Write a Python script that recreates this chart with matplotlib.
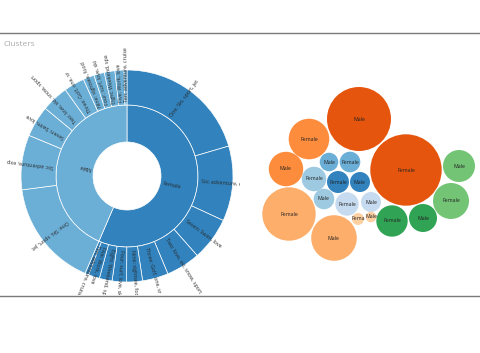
import numpy as np
import matplotlib
matplotlib.use("Agg")
import matplotlib.pyplot as plt
from matplotlib.patches import Wedge, Circle
from matplotlib.lines import Line2D

plt.rcParams['font.family'] = ['Open Sans', 'DejaVu Sans']

# --- data: clusters split by gender (sunburst and bubbles use the same counts) ---
clusters = ["One: Ski, sport, jet", "Six: adventure, exp", "Seven: Swim, love",
            "Two: love, ski, snow, sport", "Three: Golf, one, sr", "Nine: sightsee, food",
            "Four: surf, love, ski", "Eight: Weekend, spa", "Five: Work, love",
            "Ten: adventure, cruise"]
female = [1274, 713, 412, 324, 246, 150, 137, 121, 106, 36]
male = [1024, 520, 296, 256, 196, 106, 100, 100, 86, 28]
colors = ["#e6550d", "#fdae6b", "#fd8d3c", "#74c476", "#31a354",
          "#9ecae1", "#c6dbef", "#3182bd", "#6baed6", "#fdd0a2"]

# bubble pack positions (pixel layout, y measured from top)
female_x = [406, 289, 309, 451, 392, 314, 347, 338, 350, 358]
female_y = [170, 214, 139, 201, 221, 179, 204, 182, 162, 219]
male_x = [359, 334, 286, 459, 423, 324, 371, 360, 329, 371]
male_y = [119, 238, 169, 166, 218, 199, 202, 182, 162, 217]

gender_names = ["Female", "Male"]
gender_colors = ["#3182bd", "#6baed6"]

W, H = 480, 353
fig = plt.figure(figsize=(W / 100, H / 100), dpi=100)


def pixel_axes(x0, x1, y_top, y_bot):
    ax = fig.add_axes([x0 / W, (H - y_bot) / H, (x1 - x0) / W, (y_bot - y_top) / H])
    ax.set_xlim(x0, x1)
    ax.set_ylim(H - y_bot, H - y_top)
    ax.set_aspect('equal')
    ax.axis('off')
    return ax


# frame lines and title
fig.add_artist(Line2D([0, 1], [1 - 33 / H, 1 - 33 / H], color="#7a7a7a", lw=1.0))
fig.add_artist(Line2D([0, 1], [1 - 296 / H, 1 - 296 / H], color="#7a7a7a", lw=1.0))
fig.text(4 / W, 1 - 44 / H, "Clusters", color="#aaaaaa", fontsize=6, va="center", ha="left")

# --- sunburst ---
ax1 = pixel_axes(0, 240, 34, 295)
cx, cy = 127, H - 176
r_hole, r_mid, r_out = 34, 71, 106
total = sum(female) + sum(male)


def label(ax, r, ang, txt, size):
    a = np.radians(ang)
    ax.text(cx + r * np.cos(a), cy + r * np.sin(a), txt, rotation=ang,
            rotation_mode='anchor', ha='left', va='center', fontsize=size,
            color="#2a2a2a", clip_on=True)


start = 90.0
for g, vals in enumerate([female, male]):
    span = 360.0 * sum(vals) / total
    ax1.add_patch(Wedge((cx, cy), r_mid, start - span, start, width=r_mid - r_hole,
                        facecolor=gender_colors[g], edgecolor="white", lw=0.5))
    label(ax1, r_hole + 3, start - span / 2, gender_names[g], 4.0)
    a = start
    for name, v in zip(clusters, vals):
        s = 360.0 * v / total
        ax1.add_patch(Wedge((cx, cy), r_out, a - s, a, width=r_out - r_mid,
                            facecolor=gender_colors[g], edgecolor="white", lw=0.5))
        label(ax1, r_mid + 3, a - s / 2, name, 3.8)
        a -= s
    start -= span

# --- bubbles ---
ax2 = pixel_axes(240, 480, 34, 295)
for g, (vals, xs, ys) in enumerate([(female, female_x, female_y), (male, male_x, male_y)]):
    for v, x, y, c in zip(vals, xs, ys, colors):
        r = np.sqrt(v)
        ax2.add_patch(Circle((x, H - y), r, facecolor=c, edgecolor="none"))
        txt = gender_names[g] if r > 8 else gender_names[g][:4]
        ax2.text(x, H - y, txt, ha='center', va='center', fontsize=3.8, color="#222222")

fig.savefig("out.png", dpi=100)
